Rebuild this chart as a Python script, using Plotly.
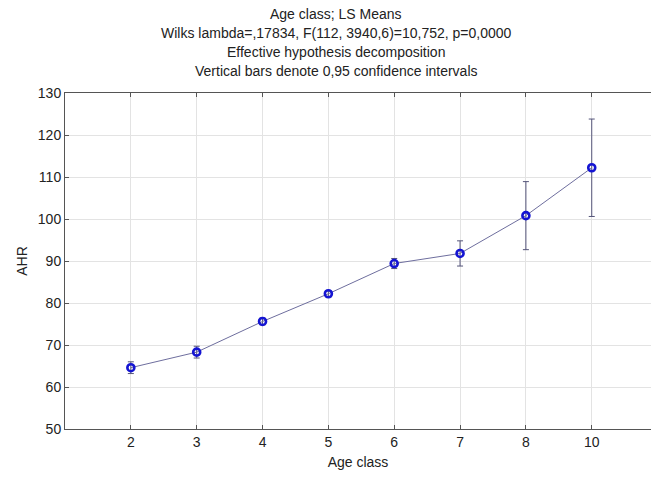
import plotly.graph_objects as go

categories = ["2", "3", "4", "5", "6", "7", "8", "10"]
means = [64.6, 68.3, 75.6, 82.2, 89.4, 91.8, 100.8, 112.2]
ci_half = [1.4, 1.4, 0.8, 0.7, 1.2, 3.0, 8.1, 11.6]
y_ticks = [50, 60, 70, 80, 90, 100, 110, 120, 130]

title_lines = [
    "Age class; LS Means",
    "Wilks lambda=,17834, F(112, 3940,6)=10,752, p=0,0000",
    "Effective hypothesis decomposition",
    "Vertical bars denote 0,95 confidence intervals",
]

FONT = "Liberation Sans, Arial, sans-serif"
W, H = 651, 479
ML, MR, MT, MB = 65, 0, 93, 50
plot_h = H - MT - MB
plot_w = W - ML - MR

fig = go.Figure()
fig.add_trace(go.Scatter(
    x=categories, y=means,
    mode="lines+markers",
    line=dict(color="#6e6e9e", width=1),
    marker=dict(symbol="circle-open", size=7, color="#1414d2",
                line=dict(width=2.6, color="#1414d2")),
    error_y=dict(type="data", array=ci_half, symmetric=True,
                 color="#55557a", thickness=1, width=3),
    showlegend=False,
))

line_centers_px = [14, 33, 52, 71]
for txt, yc in zip(title_lines, line_centers_px):
    fig.add_annotation(
        text=txt, xref="paper", yref="paper",
        x=(336 - ML) / plot_w, y=1 + (MT - yc) / plot_h,
        xanchor="center", yanchor="middle", showarrow=False,
        font=dict(family=FONT, size=14, color="#222222"),
    )

fig.update_layout(
    width=W, height=H,
    margin=dict(l=ML, r=MR, t=MT, b=MB),
    paper_bgcolor="white", plot_bgcolor="white",
    font=dict(family=FONT, size=14, color="#222222"),
    xaxis=dict(
        type="category", categoryorder="array", categoryarray=categories,
        range=[-1, 7.9],
        showgrid=True, gridcolor="#e3e3e3", gridwidth=1,
        showline=True, linecolor="#555555", linewidth=1, mirror="ticks",
        ticks="inside", ticklen=4, tickcolor="#555555",
        title=dict(text="Age class", standoff=8, font=dict(size=14)),
        tickfont=dict(size=14),
        zeroline=False,
    ),
    yaxis=dict(
        range=[50, 130], tickvals=y_ticks,
        showgrid=True, gridcolor="#e3e3e3", gridwidth=1,
        showline=True, linecolor="#555555", linewidth=1,
        ticks="inside", ticklen=4, tickcolor="#555555",
        title=dict(text="AHR", standoff=6, font=dict(size=14)),
        tickfont=dict(size=14),
        zeroline=False,
    ),
)

fig.write_html("out.html")
